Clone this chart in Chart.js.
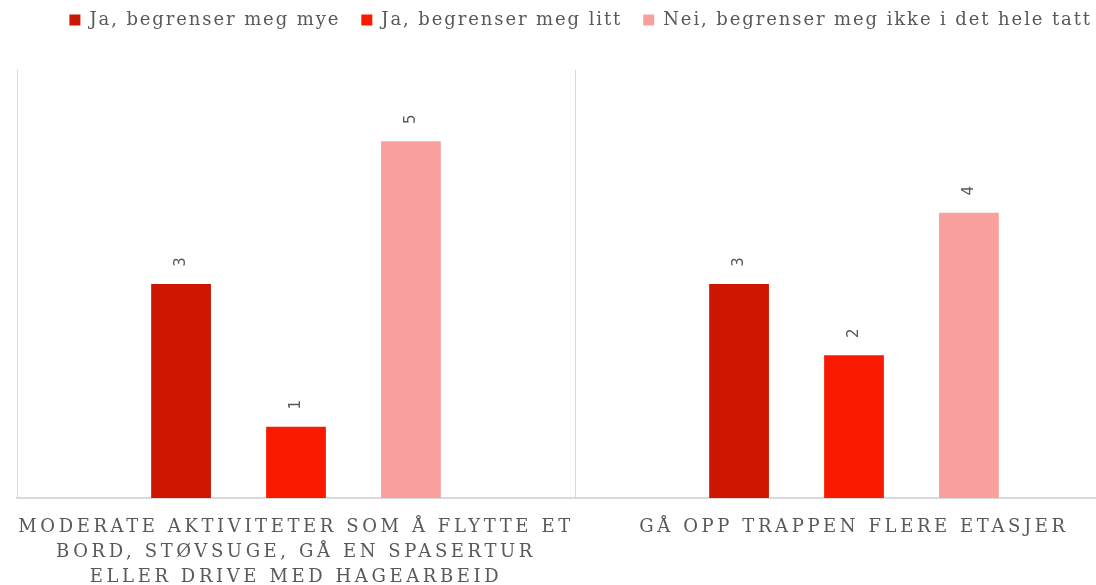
<!DOCTYPE html>
<html><head><meta charset="utf-8">
<script src="https://cdn.jsdelivr.net/npm/chart.js@4"></script>
<style>
html,body{margin:0;padding:0;overflow:hidden;background:#fff;width:1096px;height:585px}
#wrap{position:absolute;left:0;top:0;width:1150px;height:585px}
</style>
</head><body><div id="wrap"><canvas id="c" width="1150" height="585"></canvas></div>
<script>
const categories = [
  ["MODERATE AKTIVITETER SOM Å FLYTTE ET", "BORD, STØVSUGE, GÅ EN SPASERTUR", "ELLER DRIVE MED HAGEARBEID"],
  "GÅ OPP TRAPPEN FLERE ETASJER"
];
const seriesNames = ["Ja, begrenser meg mye", "Ja, begrenser meg litt", "Nei, begrenser meg ikke i det hele tatt"];
const valuesMye = [3, 3];
const valuesLitt = [1, 2];
const valuesIkke = [5, 4];
const seriesColors = ["#CC1600", "#FA1A00", "#F9A09F"];
const yMin = 0, yMax = 6;

const textGray = "#595959";
const legendRightEdge = 1090;
const legendExtraHeight = 31;

const tweaks = {
  id: "tweaks",
  afterInit(chart) {
    const lg = chart.legend;
    if (lg && !lg._patched) {
      const origFit = lg.fit;
      lg.fit = function () {
        const ctx = this.ctx;
        ctx.save();
        ctx.letterSpacing = "1.9px";
        origFit.call(this);
        ctx.restore();
        this.height += legendExtraHeight;
      };
      const origDraw = lg.draw;
      lg.draw = function () {
        const ctx = this.ctx;
        ctx.save();
        ctx.letterSpacing = "1.9px";
        origDraw.call(this);
        ctx.restore();
      };
      lg._patched = true;
    }
  },
  beforeDraw(chart) {
    const lg = chart.legend;
    if (lg) { lg.right = legendRightEdge + lg.options.labels.padding + 2; }
    const sx = chart.scales.x;
    if (sx && !sx._lsPatched) {
      const orig = sx.drawLabels;
      sx.drawLabels = function (area) {
        const ctx = this.ctx;
        ctx.save();
        ctx.letterSpacing = "3.6px";
        orig.call(this, area);
        ctx.restore();
      };
      sx._lsPatched = true;
    }
  },
  afterDatasetsDraw(chart) {
    const ctx = chart.ctx;
    ctx.save();
    ctx.fillStyle = textGray;
    ctx.font = "15px 'DejaVu Sans'";
    ctx.textAlign = "center";
    ctx.textBaseline = "middle";
    chart.data.datasets.forEach((ds, i) => {
      const meta = chart.getDatasetMeta(i);
      meta.data.forEach((el, j) => {
        ctx.save();
        ctx.translate(el.x, el.y - 22);
        ctx.rotate(-Math.PI / 2);
        ctx.fillText(String(ds.data[j]), 0, 0);
        ctx.restore();
      });
    });
    ctx.restore();
  }
};

new Chart(document.getElementById("c"), {
  type: "bar",
  data: {
    labels: categories,
    datasets: [
      { label: seriesNames[0], data: valuesMye, backgroundColor: seriesColors[0] },
      { label: seriesNames[1], data: valuesLitt, backgroundColor: seriesColors[1] },
      { label: seriesNames[2], data: valuesIkke, backgroundColor: seriesColors[2] }
    ]
  },
  options: {
    responsive: false,
    animation: false,
    devicePixelRatio: 1,
    categoryPercentage: 0.618,
    barPercentage: 0.52,
    layout: { padding: { left: 17, right: 17, top: -10, bottom: 0 } },
    plugins: {
      legend: {
        position: "top",
        align: "end",
        labels: {
          color: textGray,
          font: { family: "'DejaVu Serif'", size: 18 },
          boxWidth: 11,
          boxHeight: 11,
          padding: 21
        }
      },
      tooltip: { enabled: false }
    },
    scales: {
      x: {
        afterFit(scale) { scale.height = 87; },
        grid: { display: true, offset: true, color: "#D9D9D9", lineWidth: 1, drawTicks: false },
        border: { display: true, color: "#D9D9D9", width: 2 },
        ticks: {
          color: textGray,
          font: { family: "'DejaVu Serif'", size: 18, lineHeight: 1.39 },
          padding: 17,
          maxRotation: 0,
          autoSkip: false
        }
      },
      y: {
        display: false,
        min: yMin,
        max: yMax
      }
    }
  },
  plugins: [tweaks]
});
</script>
</body></html>
